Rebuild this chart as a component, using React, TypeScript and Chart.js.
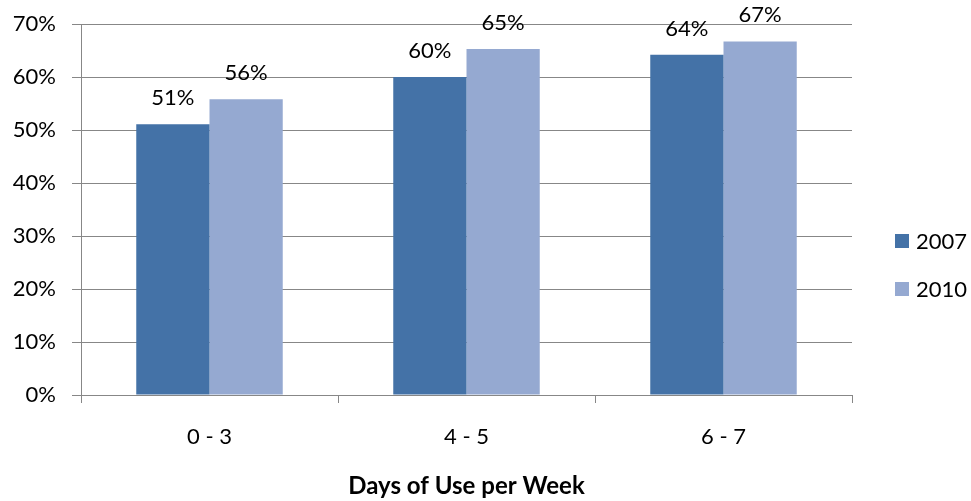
import React, { useEffect, useRef } from "react";
import { Chart, registerables } from "chart.js";

Chart.register(...registerables);

const categories = ["0 - 3", "4 - 5", "6 - 7"];
const seriesNames = ["2007", "2010"];
const values2007 = [51.1, 60.0, 64.2];
const values2010 = [55.8, 65.3, 66.7];
const yTicks = [0, 10, 20, 30, 40, 50, 60, 70];
const xTitle = "Days of Use per Week";

const colors = ["#4472A7", "#95A9D1"];
const FONT = "Lato";

const labelPlugin = {
  id: "extras",
  afterDatasetsDraw(chart: any) {
    const ctx = chart.ctx;
    ctx.save();
    ctx.fillStyle = "#000";
    ctx.font = `22px ${FONT}`;
    ctx.textAlign = "center";
    ctx.textBaseline = "alphabetic";
    chart.data.datasets.forEach((ds: any, i: number) => {
      const meta = chart.getDatasetMeta(i);
      meta.data.forEach((bar: any, j: number) => {
        ctx.fillText(Math.round(ds.data[j]) + "%", bar.x, bar.y - 19);
      });
    });
    // legend
    const area = chart.chartArea;
    const legendY = [241, 289];
    ctx.textAlign = "left";
    ctx.textBaseline = "middle";
    chart.data.datasets.forEach((ds: any, i: number) => {
      ctx.fillStyle = ds.backgroundColor;
      ctx.fillRect(895, legendY[i] - 7, 14, 14);
      ctx.fillStyle = "#000";
      ctx.fillText(ds.label, 916, legendY[i] + 1);
    });
    // axis title
    ctx.font = `bold 24px ${FONT}`;
    ctx.textAlign = "center";
    ctx.textBaseline = "alphabetic";
    ctx.fillText(xTitle, (area.left + area.right) / 2, 494);
    ctx.restore();
  },
};

export default function App() {
  const ref = useRef<HTMLCanvasElement>(null);
  useEffect(() => {
    if (!ref.current) return;
    const chart = new Chart(ref.current, {
      type: "bar",
      data: {
        labels: categories,
        datasets: [
          { label: seriesNames[0], data: values2007, backgroundColor: colors[0] },
          { label: seriesNames[1], data: values2010, backgroundColor: colors[1] },
        ],
      },
      options: {
        animation: false,
        responsive: false,
        layout: { padding: { top: 24, right: 119, bottom: 0, left: 0 } },
        plugins: { legend: { display: false }, tooltip: { enabled: false } },
        datasets: { bar: { categoryPercentage: 0.57, barPercentage: 1.0 } },
        scales: {
          x: {
            grid: { drawOnChartArea: false, drawTicks: true, tickLength: 8, color: "#878787", offset: true },
            border: { color: "#878787" },
            ticks: { color: "#000", font: { family: FONT, size: 22 }, padding: 21 },
            afterFit: (s: any) => { s.height = 106; s.paddingLeft = 0; s.paddingRight = 0; },
          },
          y: {
            min: 0,
            max: 70,
            afterBuildTicks: (s: any) => { s.ticks = yTicks.map((v) => ({ value: v })); },
            grid: { color: "#878787", tickLength: 9 },
            border: { color: "#878787" },
            ticks: { color: "#000", font: { family: FONT, size: 22 }, padding: 16, callback: (v: any) => v + "%" },
            afterFit: (s: any) => { s.width = 81; s.paddingTop = 0; s.paddingBottom = 0; },
          },
        },
      },
      plugins: [labelPlugin],
    });
    return () => chart.destroy();
  }, []);
  return (
    <div style={{ position: "fixed", left: 0, top: 0, width: 971, height: 501, background: "#fff" }}>
      <canvas ref={ref} width={971} height={501} style={{ width: 971, height: 501 }} />
    </div>
  );
}
